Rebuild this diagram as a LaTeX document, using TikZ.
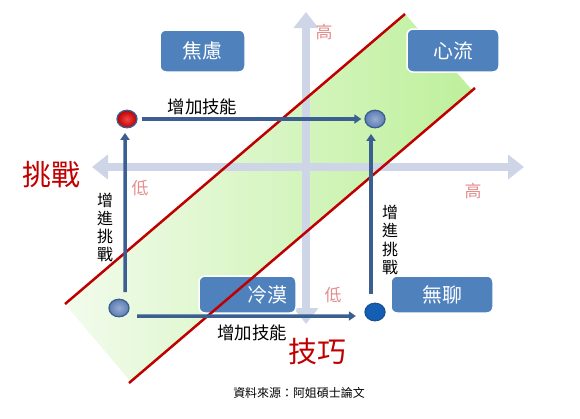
\documentclass[tikz,border=0pt]{standalone}
\usepackage{fontspec}
\setmainfont{Noto Sans CJK TC}
\usetikzlibrary{arrows.meta,shapes.geometric}
\definecolor{boxblue}{RGB}{79,129,189}
\definecolor{arrowblue}{RGB}{60,95,145}
\definecolor{axisgray}{RGB}{205,213,230}
\definecolor{darkred}{RGB}{192,0,0}
\definecolor{pinklbl}{RGB}{228,140,140}
\definecolor{greenlight}{RGB}{242,251,236}
\definecolor{greendark}{RGB}{190,240,155}
\tikzset{
  quad/.style={rounded corners=6bp, fill=boxblue, draw=white, line width=1.5bp,
    text=white, font=\fontsize{20}{22}\selectfont, inner sep=0pt},
  flowarrow/.style={draw=arrowblue, line width=3.5bp, -{Triangle[length=7bp,width=9bp]}},
  axisarrow/.style={draw=axisgray, line width=8bp, -{Triangle[length=16bp,width=24bp]}},
  redline/.style={draw=darkred, line width=2.5bp},
  dot/.style={ellipse, minimum width=20bp, minimum height=17.5bp, inner sep=0pt,
    draw=arrowblue, line width=1.3bp},
  lbl/.style={font=\fontsize{17.5}{19}\selectfont, inner sep=0pt},
  vlbl/.style={font=\fontsize{16}{18.3}\selectfont, align=center, inner sep=0pt},
  hilo/.style={text=pinklbl, font=\fontsize{17}{19}\selectfont, inner sep=0pt},
  big/.style={text=darkred, font=\fontsize{29}{31}\selectfont, inner sep=0pt}
}
\begin{document}
\begin{tikzpicture}[x=1bp,y=-1bp]
\useasboundingbox (0,0) rectangle (580,418);
% green band
\shade[left color=greenlight, right color=greendark]
  (65,304) -- (405,14) -- (472,90) -- (131,382) -- cycle;
% axes
\coordinate (xl) at (306,167);
\coordinate (xa) at (92,167);
\coordinate (xb) at (524,167);
\coordinate (ya) at (306,12);
\coordinate (yb) at (306,324);
\draw[axisarrow] (xl) -- (xa);
\draw[axisarrow] (xl) -- (xb);
\draw[axisarrow] (xl) -- (ya);
\draw[axisarrow] (xl) -- (yb);
% boxes
\node[quad, minimum width=85bp, minimum height=42bp] (anx) at (202.5,51) {焦慮};
\node[quad, minimum width=92bp, minimum height=43bp] (flow) at (453,50.5) {心流};
\node[quad, minimum width=97bp, minimum height=37bp, text width=79bp, align=right, inner xsep=9bp] (apa) at (247.5,294.5) {冷漠};
\node[quad, minimum width=102bp, minimum height=37bp] (bor) at (442,294.5) {無聊};
% red lines
\draw[redline] (65,304) -- (405,14);
\draw[redline] (129,383) -- (475,88);
% circles
\node[dot, inner color={rgb,255:red,245;green,70;blue,70}, outer color={rgb,255:red,185;green,0;blue,0}] (c1) at (127,119) {};
\node[dot, inner color={rgb,255:red,150;green,172;blue,210}, outer color={rgb,255:red,95;green,125;blue,178}] (c2) at (375,119) {};
\node[dot, inner color={rgb,255:red,150;green,172;blue,210}, outer color={rgb,255:red,95;green,125;blue,178}] (c3) at (119,308) {};
\node[dot, draw={rgb,255:red,25;green,80;blue,150}, fill={rgb,255:red,20;green,95;blue,180}] (c4) at (375,312) {};
% flow arrows
\draw[flowarrow, shorten <=4bp, shorten >=3bp] (c1.east) -- (c2.west);
\draw[flowarrow, shorten <=6.5bp, shorten >=4.5bp] ([xshift=6bp]c3.north) -- ([xshift=-2bp]c1.south);
\draw[flowarrow, shorten <=7.5bp, shorten >=8.5bp] ([yshift=-8bp]c3.east) -- ([yshift=-4bp]c4.west);
\draw[flowarrow, shorten <=8.5bp, shorten >=5.5bp] ([xshift=-4bp]c4.north) -- ([xshift=-4bp]c2.south);
% labels
\node[lbl] (t1) at (202.5,107) {增加技能};
\node[lbl] (t2) at (252,332.5) {增加技能};
\node[vlbl] (v1) at (105,227.5) {增\\進\\挑\\戰};
\node[vlbl] (v2) at (390,240) {增\\進\\挑\\戰};
\node[big] (challenge) at (51,175) {挑戰};
\node[big] (skill) at (317,352) {技巧};
\node[hilo] (h1) at (324,32) {高};
\node[hilo] (h2) at (473,191) {高};
\node[hilo] (l1) at (140,188) {低};
\node[hilo] (l2) at (333,295) {低};
\node[font=\fontsize{12}{14}\selectfont, inner sep=0pt] (src) at (299,393) {資料來源：阿姐碩士論文};
\end{tikzpicture}
\end{document}
